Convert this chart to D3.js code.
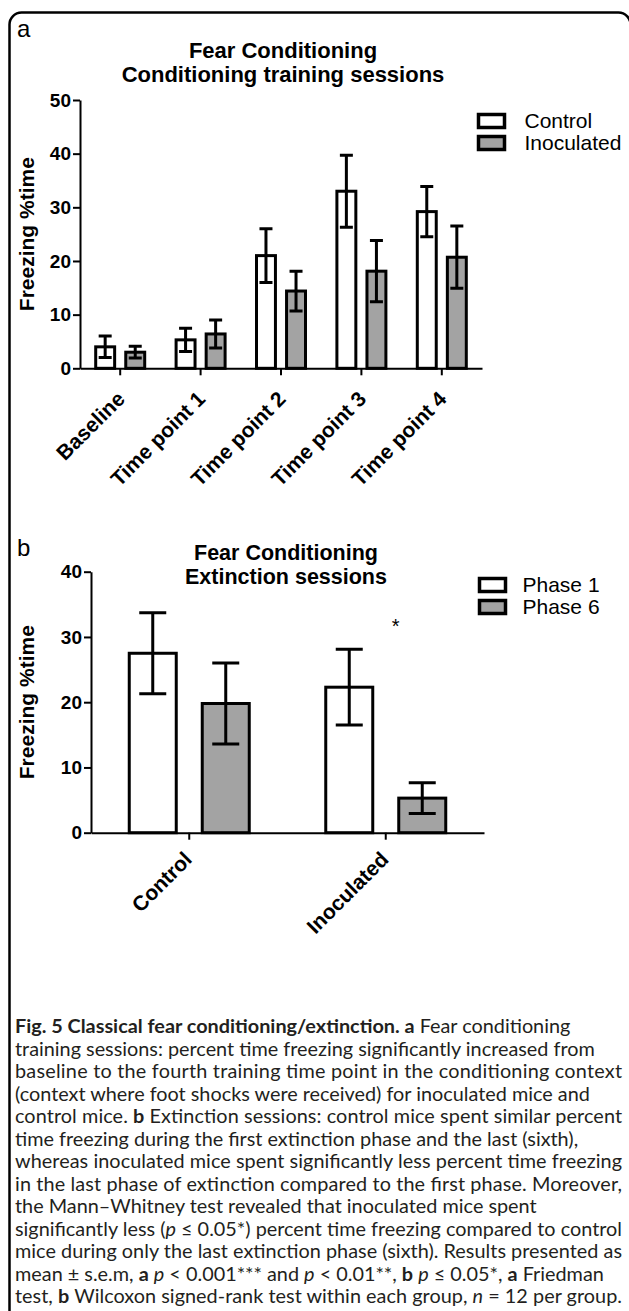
<!DOCTYPE html>
<html>
<head>
<meta charset="utf-8">
<script src="https://cdn.jsdelivr.net/npm/d3@7"></script>
<style>
  html, body { margin: 0; padding: 0; background: #fff; }
  svg { display: block; }
  .chart text { font-family: "Liberation Sans", Arial, Helvetica, sans-serif; fill: #000; }
  .caption text { font-family: Lato, "Open Sans", sans-serif; fill: #231f20; white-space: pre; }
</style>
</head>
<body>
<div id="figure"></div>
<script>
/////////////////////////////////////////////////////////
//////////////////////// Data ///////////////////////////
/////////////////////////////////////////////////////////

// a - conditioning training sessions
const sessions = ["Baseline", "Time point 1", "Time point 2", "Time point 3", "Time point 4"];
const controlMean = [4.0, 5.3, 21.0, 33.0, 29.2];
const controlSem = [2.0, 2.15, 5.0, 6.7, 4.7];
const inoculatedMean = [3.0, 6.4, 14.4, 18.1, 20.7];
const inoculatedSem = [1.1, 2.6, 3.7, 5.7, 5.8];
const sessionTicks = [0, 10, 20, 30, 40, 50];

// b - extinction sessions
const groups = ["Control", "Inoculated"];
const phase1Mean = [27.5, 22.3];
const phase1Sem = [6.2, 5.8];
const phase6Mean = [19.8, 5.3];
const phase6Sem = [6.2, 2.35];
const extinctionTicks = [0, 10, 20, 30, 40];
const extinctionMarks = [{group: "Inoculated", value: 30.6, label: "*"}];

// caption, one line per row: [text, style]
const captionLines = [
	[["Fig. 5 Classical fear conditioning/extinction. ", "b"], ["a", "b"], [" Fear conditioning", ""]],
	[["training sessions: percent time freezing significantly increased from", ""]],
	[["baseline to the fourth training time point in the conditioning context", ""]],
	[["(context where foot shocks were received) for inoculated mice and", ""]],
	[["control mice. ", ""], ["b", "b"], [" Extinction sessions: control mice spent similar percent", ""]],
	[["time freezing during the first extinction phase and the last (sixth),", ""]],
	[["whereas inoculated mice spent significantly less percent time freezing", ""]],
	[["in the last phase of extinction compared to the first phase. Moreover,", ""]],
	[["the Mann\u2013Whitney test revealed that inoculated mice spent", ""]],
	[["significantly less (", ""], ["p", "i"], [" \u2264 0.05*) percent time freezing compared to control", ""]],
	[["mice during only the last extinction phase (sixth). Results presented as", ""]],
	[["mean \u00b1 s.e.m, ", ""], ["a", "b"], [" ", ""], ["p", "i"], [" < 0.001*** and ", ""], ["p", "i"], [" < 0.01**, ", ""],
	 ["b", "b"], [" ", ""], ["p", "i"], [" \u2264 0.05*, ", ""], ["a", "b"], [" Friedman", ""]],
	[["test, ", ""], ["b", "b"], [" Wilcoxon signed-rank test within each group, ", ""], ["n", "i"], [" = 12 per group.", ""]]
];
// lines that reach the right margin in the printed caption
const captionFullLines = [2, 4, 6, 7, 9, 10, 12];

const WHITE = "#ffffff", GREY = "#a3a3a3";

/////////////////////////////////////////////////////////
/////////////////// Container SVG ///////////////////////
/////////////////////////////////////////////////////////
const svg = d3.select("#figure").append("svg")
	.attr("width", 629)
	.attr("height", 1311);

//Rounded frame around figure + caption
svg.append("rect")
	.attr("x", 9.5).attr("y", 12.5)
	.attr("width", 621).attr("height", 1340)
	.attr("rx", 12)
	.style("fill", "none")
	.style("stroke", "#000")
	.style("stroke-width", 2.5);

const chart = svg.append("g").attr("class", "chart");

/////////////////////////////////////////////////////////
///////////////// One bar chart panel ///////////////////
/////////////////////////////////////////////////////////
const drawPanel = function(p) {
	const g = chart.append("g");

	const y = d3.scaleLinear().domain([0, p.yMax]).range([p.yBottom, p.yTop]);
	const x = d3.scaleBand().domain(p.categories).range([p.xLeft, p.xRight]);
	const inner = d3.scaleBand()
		.domain(p.series.map(s => s.name))
		.range([-p.groupHalf, p.groupHalf])
		.paddingInner(p.barGap);

	//Panel letter
	g.append("text")
		.attr("x", p.letterX).attr("y", p.letterY)
		.style("font-size", "24px")
		.text(p.letter);

	//Title
	g.selectAll(".title")
		.data(p.title)
		.join("text")
		.attr("class", "title")
		.attr("x", p.titleX)
		.attr("y", (d, i) => p.titleY + i * p.titleStep)
		.attr("text-anchor", "middle")
		.style("font-weight", "bold")
		.style("font-size", p.titleSize + "px")
		.text(d => d);

	//Bars
	const cells = [];
	p.series.forEach(s => s.means.forEach((m, i) => {
		cells.push({cat: p.categories[i], name: s.name, m: m, e: s.sems[i], fill: s.fill});
	}));
	const cx = d => x(d.cat) + x.bandwidth() / 2 + inner(d.name) + inner.bandwidth() / 2;

	g.append("g").selectAll("rect")
		.data(cells)
		.join("rect")
		.attr("x", d => cx(d) - (inner.bandwidth() - p.barStroke) / 2)
		.attr("width", inner.bandwidth() - p.barStroke)
		.attr("y", d => y(d.m))
		.attr("height", d => y(0) - y(d.m))
		.style("fill", d => d.fill)
		.style("stroke", "#000")
		.style("stroke-width", p.barStroke);

	//Error bars (mean +/- sem)
	g.append("g").selectAll("path")
		.data(cells)
		.join("path")
		.attr("d", d => {
			const c = cx(d), hi = y(d.m + d.e), lo = y(d.m - d.e), w = p.capWidth / 2;
			return `M${c - w},${hi}H${c + w}M${c},${hi}V${lo}M${c - w},${lo}H${c + w}`;
		})
		.style("fill", "none")
		.style("stroke", "#000")
		.style("stroke-width", 3);

	//Y axis
	const yAxis = g.append("g")
		.attr("transform", `translate(${p.xLeft},0)`)
		.call(d3.axisLeft(y).tickValues(p.ticks).tickSize(7).tickSizeOuter(0).tickPadding(2));
	yAxis.selectAll(".domain, .tick line").style("stroke", "#000").style("stroke-width", 2);
	yAxis.selectAll(".tick text")
		.style("font-size", p.tickSize + "px")
		.style("font-weight", "bold");

	//X axis with rotated labels
	const xAxis = g.append("g")
		.attr("transform", `translate(0,${p.yBottom})`)
		.call(d3.axisBottom(x).tickSize(7).tickSizeOuter(0));
	xAxis.selectAll(".domain, .tick line").style("stroke", "#000").style("stroke-width", 2);
	xAxis.selectAll(".tick text")
		.attr("x", 0).attr("y", 0).attr("dy", null)
		.attr("transform", `translate(${p.labelDx},${p.labelDy}) rotate(-45)`)
		.style("text-anchor", "end")
		.style("font-size", p.labelSize + "px")
		.style("font-weight", "bold");

	//Y axis title
	g.append("text")
		.attr("transform", `translate(${p.yTitleX},${(p.yTop + p.yBottom) / 2}) rotate(-90)`)
		.attr("text-anchor", "middle")
		.style("font-size", p.yTitleSize + "px")
		.style("font-weight", "bold")
		.text("Freezing %time");

	//Significance marks
	g.selectAll(".mark")
		.data(p.marks || [])
		.join("text")
		.attr("class", "mark")
		.attr("x", d => x(d.group) + x.bandwidth() / 2 + p.markDx)
		.attr("y", d => y(d.value))
		.attr("text-anchor", "middle")
		.style("font-size", "20px")
		.text(d => d.label);

	//Legend
	const legend = g.selectAll(".legendItem")
		.data(p.series)
		.join("g")
		.attr("class", "legendItem")
		.attr("transform", (d, i) => `translate(${p.legendX},${p.legendY + i * 22})`);
	legend.append("rect")
		.attr("width", 26).attr("height", 13)
		.style("fill", d => d.fill)
		.style("stroke", "#000")
		.style("stroke-width", 3.5);
	legend.append("text")
		.attr("x", p.legendTextDx).attr("y", 13)
		.style("font-size", "21px")
		.text(d => d.name);
};

drawPanel({
	letter: "a", letterX: 17, letterY: 37,
	title: ["Fear Conditioning", "Conditioning training sessions"],
	titleX: 283, titleY: 58, titleStep: 24, titleSize: 22,
	categories: sessions,
	series: [
		{name: "Control", means: controlMean, sems: controlSem, fill: WHITE},
		{name: "Inoculated", means: inoculatedMean, sems: inoculatedSem, fill: GREY}
	],
	ticks: sessionTicks, yMax: 50,
	xLeft: 80, xRight: 482, yTop: 100, yBottom: 368.3,
	groupHalf: 26, barGap: 0.27, barStroke: 3, capWidth: 13,
	tickSize: 19, labelSize: 21, labelDx: 6, labelDy: 32,
	yTitleX: 34, yTitleSize: 21,
	legendX: 478.5, legendY: 114.5, legendTextDx: 46
});

drawPanel({
	letter: "b", letterX: 17, letterY: 556,
	title: ["Fear Conditioning", "Extinction sessions"],
	titleX: 286, titleY: 560, titleStep: 23.5, titleSize: 21.5,
	categories: groups,
	series: [
		{name: "Phase 1", means: phase1Mean, sems: phase1Sem, fill: WHITE},
		{name: "Phase 6", means: phase6Mean, sems: phase6Sem, fill: GREY}
	],
	ticks: extinctionTicks, yMax: 40,
	xLeft: 91, xRight: 484, yTop: 571.7, yBottom: 832.7,
	groupHalf: 61.5, barGap: 0.315, barStroke: 3, capWidth: 27,
	tickSize: 19, labelSize: 21, labelDx: 4, labelDy: 28,
	yTitleX: 34, yTitleSize: 21,
	marks: extinctionMarks, markDx: 10,
	legendX: 479.5, legendY: 578.5, legendTextDx: 43
});

/////////////////////////////////////////////////////////
////////////////////// Caption //////////////////////////
/////////////////////////////////////////////////////////
const captionWidth = 607;
const caption = svg.append("g").attr("class", "caption");
const captionText = caption.selectAll("text")
	.data(captionLines)
	.join("text")
	.attr("x", 15)
	.attr("y", (d, i) => 1033 + i * 22.5)
	.style("font-size", "18px");
captionText.selectAll("tspan")
	.data(d => d)
	.join("tspan")
	.style("font-weight", d => d[1] === "b" ? "bold" : null)
	.style("font-style", d => d[1] === "i" ? "italic" : null)
	.text(d => d[0]);

//Fit the caption column to the widest line, then stretch the full lines to the margin
const widest = d3.max(captionText.nodes(), n => n.getComputedTextLength());
captionText.style("font-size", (18 * captionWidth / widest) + "px");
captionText.filter((d, i) => captionFullLines.includes(i))
	.attr("textLength", captionWidth)
	.attr("lengthAdjust", "spacing");
</script>
</body>
</html>
